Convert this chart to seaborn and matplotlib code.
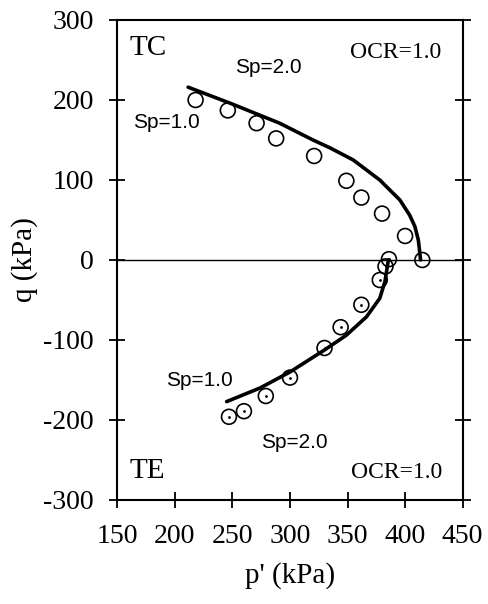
import matplotlib
matplotlib.use("Agg")
import matplotlib.pyplot as plt
import seaborn as sns
import pandas as pd

# TC data (open circles)
tc_p = [218, 246, 271, 288, 321, 349, 362, 380, 400, 415]
tc_q = [200, 187, 171, 152, 130, 99, 78, 58, 30, 0]
# TE data (dotted circles)
te_p = [386, 383, 378, 362, 344, 330, 300, 279, 260, 247]
te_q = [1, -8, -25, -56, -84, -110, -147, -170, -189, -196]
# model curves
tc_line_p = [211.5, 248, 291, 320, 335, 355, 378, 395.5, 404, 408.5, 411.5, 413.5]
tc_line_q = [216, 196, 171, 150, 140, 125, 100, 75, 56, 42, 25, 0]
te_line_p = [385.5, 382.5, 378, 366.5, 349, 330, 300, 274, 245]
te_line_q = [0, -27, -48, -71, -94, -112.5, -140, -160, -177]

x_ticks = [150, 200, 250, 300, 350, 400, 450]
y_ticks = [-300, -200, -100, 0, 100, 200, 300]

sns.set_theme(style="white")
plt.rcParams['font.family'] = ['Liberation Serif', 'DejaVu Serif']

fig = plt.figure(figsize=(4.88, 6.04), dpi=100)
ax = fig.add_axes([0.2404, 0.1722, 0.7076, 0.7947])

ax.axhline(0, color='black', lw=1.0, zorder=1)

tc_df = pd.DataFrame({'p': tc_p, 'q': tc_q})
te_df = pd.DataFrame({'p': te_p, 'q': te_q})
tcl = pd.DataFrame({'p': tc_line_p, 'q': tc_line_q})
tel = pd.DataFrame({'p': te_line_p, 'q': te_line_q})

sns.scatterplot(data=tc_df, x='p', y='q', ax=ax, marker='o', s=115,
                facecolor='none', edgecolor='black', linewidth=1.2, zorder=3)
sns.scatterplot(data=te_df, x='p', y='q', ax=ax, marker='o', s=115,
                facecolor='none', edgecolor='black', linewidth=1.2, zorder=3)
sns.scatterplot(data=te_df, x='p', y='q', ax=ax, marker='o', s=4,
                color='black', linewidth=0, zorder=3)
sns.lineplot(data=tcl, x='p', y='q', ax=ax, sort=False, estimator=None,
             color='black', lw=2.6, zorder=4)
sns.lineplot(data=tel, x='p', y='q', ax=ax, sort=False, estimator=None,
             color='black', lw=2.6, zorder=4)
for ln in ax.lines:
    ln.set_solid_joinstyle('round')

ax.set_xlim(150, 450)
ax.set_ylim(-300, 300)
ax.set_xticks(x_ticks)
ax.set_yticks(y_ticks)
ax.set_xticklabels([str(v) for v in x_ticks])
ax.set_yticklabels([str(v) for v in y_ticks])
ax.tick_params(axis='both', direction='inout', length=12, width=1.3,
               labelsize=20, pad=11, color='black', labelcolor='black')
ax.tick_params(axis='y', right=True, left=True)
ax.tick_params(axis='x', bottom=True, top=False)
for s in ax.spines.values():
    s.set_color('black')
    s.set_linewidth(1.5)

ax.set_xlabel("p' (kPa)", fontsize=21, color='black', labelpad=10)
ax.set_ylabel("q (kPa)", fontsize=21, color='black', labelpad=4)

serif = dict(family=['Liberation Serif'], color='black', va='baseline', ha='left')
sans = dict(family=['Liberation Sans'], color='black', va='baseline', ha='left')
ax.text(161, 256, 'TC', fontsize=21, **serif)
ax.text(352, 252, 'OCR=1.0', fontsize=17, **serif)
ax.text(252, 234, 'Sp=2.0', fontsize=15, **sans)
ax.text(163.6, 165, 'Sp=1.0', fontsize=15, **sans)
ax.text(161, -273, 'TE', fontsize=21, **serif)
ax.text(353, -273, 'OCR=1.0', fontsize=17, **serif)
ax.text(275, -235, 'Sp=2.0', fontsize=15, **sans)
ax.text(192, -158, 'Sp=1.0', fontsize=15, **sans)

fig.savefig('out.png', dpi=100)
